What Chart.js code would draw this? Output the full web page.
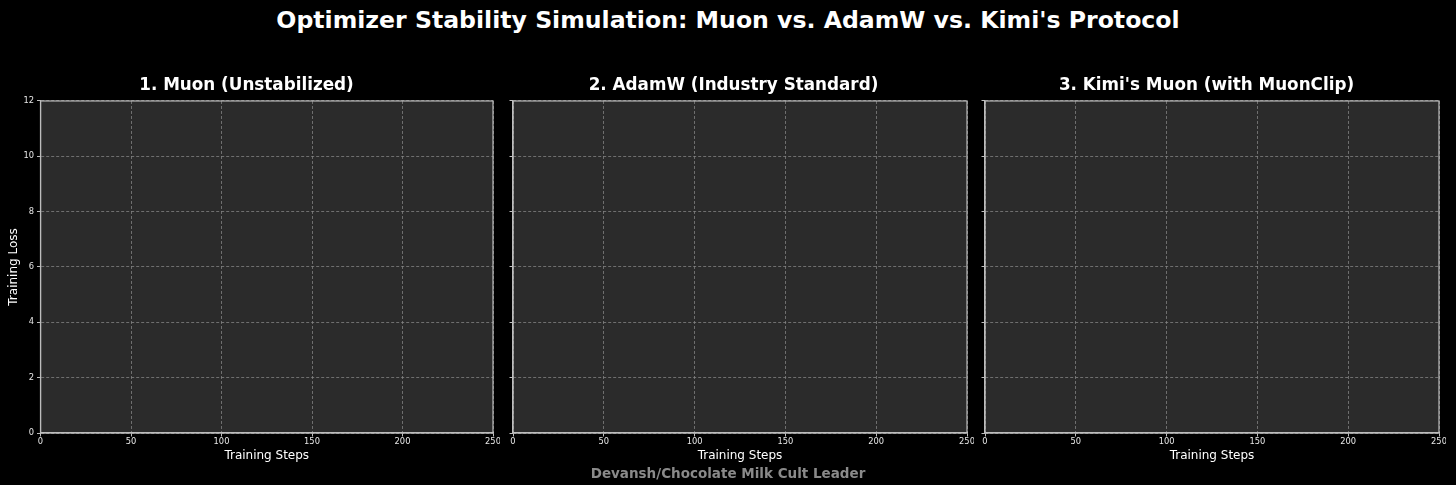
<!DOCTYPE html>
<html>
<head>
<meta charset="utf-8">
<script src="https://cdn.jsdelivr.net/npm/chart.js@4"></script>
<style>
  html, body { margin:0; padding:0; background:#000; }
  body { width:1456px; height:485px; position:relative; overflow:hidden; font-family:"DejaVu Sans", sans-serif; }
  #title { position:absolute; left:0; width:1456px; top:5px; text-align:center; color:#fff; font-weight:bold; font-size:23.6px; line-height:30px; }
  #footer { position:absolute; left:0; width:1456px; top:464px; text-align:center; color:#8a8a8a; font-weight:bold; font-size:13.5px; line-height:18px; }
  canvas { position:absolute; }
</style>
</head>
<body>
<div id="title">Optimizer Stability Simulation: Muon vs. AdamW vs. Kimi's Protocol</div>
<canvas id="c1"></canvas>
<canvas id="c2"></canvas>
<canvas id="c3"></canvas>
<div id="footer">Devansh/Chocolate Milk Cult Leader</div>
<script>
// ---- data (first frame of the animation: no curves drawn yet) ----
const panelTitles = ["1. Muon (Unstabilized)", "2. AdamW (Industry Standard)", "3. Kimi's Muon (with MuonClip)"];
const xTicks = [0, 50, 100, 150, 200, 250];
const yTicks = [0, 2, 4, 6, 8, 10, 12];
const muonSteps = [];
const muonLoss = [];
const adamwSteps = [];
const adamwLoss = [];
const kimiSteps = [];
const kimiLoss = [];
const xLabel = "Training Steps";
const yLabel = "Training Loss";

const seriesSteps = [muonSteps, adamwSteps, kimiSteps];
const seriesLoss = [muonLoss, adamwLoss, kimiLoss];
const seriesColors = ['#ff4d4d', '#4da6ff', '#4dff88'];

const layoutSpec = [
  { left: 0,   width: 500, yWidth: 40.5, showY: true },
  { left: 500, width: 474, yWidth: 13,   showY: false },
  { left: 974, width: 472, yWidth: 11,   showY: false }
];
const CANVAS_TOP = 56, CANVAS_H = 414, X_H = 37;

const frame = {
  id: 'frame',
  beforeDraw(chart) {
    const a = chart.chartArea, ctx = chart.ctx;
    ctx.save();
    ctx.fillStyle = '#2b2b2b';
    ctx.fillRect(a.left, a.top, a.right - a.left, a.bottom - a.top);
    ctx.restore();
  },
  afterDraw(chart) {
    const a = chart.chartArea, ctx = chart.ctx;
    ctx.save();
    ctx.setLineDash([]);
    ctx.strokeStyle = '#bdbdbd';
    ctx.lineWidth = 1.2;
    ctx.strokeRect(a.left, a.top, a.right - a.left, a.bottom - a.top);
    ctx.restore();
  }
};

const gridOpts = { color: 'rgba(135,135,135,0.75)', lineWidth: 1, tickColor: '#bdbdbd', tickBorderDash: [], tickLength: 3.5, tickWidth: 1 };
const borderOpts = { display: true, color: '#bdbdbd', width: 1.2, dash: [3, 2] };

layoutSpec.forEach((L, i) => {
  const cv = document.getElementById('c' + (i + 1));
  cv.style.left = L.left + 'px';
  cv.style.top = CANVAS_TOP + 'px';
  cv.style.width = L.width + 'px';
  cv.style.height = CANVAS_H + 'px';
  cv.width = L.width; cv.height = CANVAS_H;
  const pts = seriesSteps[i].map((s, k) => ({ x: s, y: seriesLoss[i][k] }));
  new Chart(cv, {
    type: 'line',
    data: { datasets: [{ data: pts, borderColor: seriesColors[i], borderWidth: 2, pointRadius: 0, fill: false }] },
    plugins: [frame],
    options: {
      responsive: false,
      animation: false,
      devicePixelRatio: 1,
      layout: { padding: { left: 0, right: 7, top: 0, bottom: 0 } },
      plugins: {
        legend: { display: false },
        tooltip: { enabled: false },
        title: {
          display: true, text: panelTitles[i], color: '#ffffff',
          font: { family: 'DejaVu Sans', size: 16.8, weight: 'bold' },
          padding: { top: 19.9, bottom: 4.9 }
        }
      },
      scales: {
        x: {
          type: 'linear', min: 0, max: 250,
          afterBuildTicks(s) { s.ticks = xTicks.map(v => ({ value: v })); },
          afterFit(s) { s.height = X_H; s.paddingLeft = 0; s.paddingRight = 0; },
          ticks: { color: '#e6e6e6', font: { family: 'DejaVu Sans', size: 8.3 }, padding: 0.5, maxRotation: 0, autoSkip: false },
          grid: gridOpts,
          border: borderOpts,
          title: { display: true, text: xLabel, color: '#ffffff', font: { family: 'DejaVu Sans', size: 12 }, padding: { top: 0, bottom: 7 } }
        },
        y: {
          type: 'linear', min: 0, max: 12,
          afterBuildTicks(s) { s.ticks = yTicks.map(v => ({ value: v })); },
          afterFit(s) { s.width = L.yWidth; s.paddingTop = 0; s.paddingBottom = 0; },
          ticks: { color: '#e6e6e6', font: { family: 'DejaVu Sans', size: 8.3 }, padding: 3, callback: (v) => L.showY ? String(v) : '' },
          grid: gridOpts,
          border: borderOpts,
          title: { display: L.showY, text: yLabel, color: '#ffffff', font: { family: 'DejaVu Sans', size: 12 }, padding: { top: 6.8, bottom: 0 } }
        }
      }
    }
  });
});
</script>
</body>
</html>
